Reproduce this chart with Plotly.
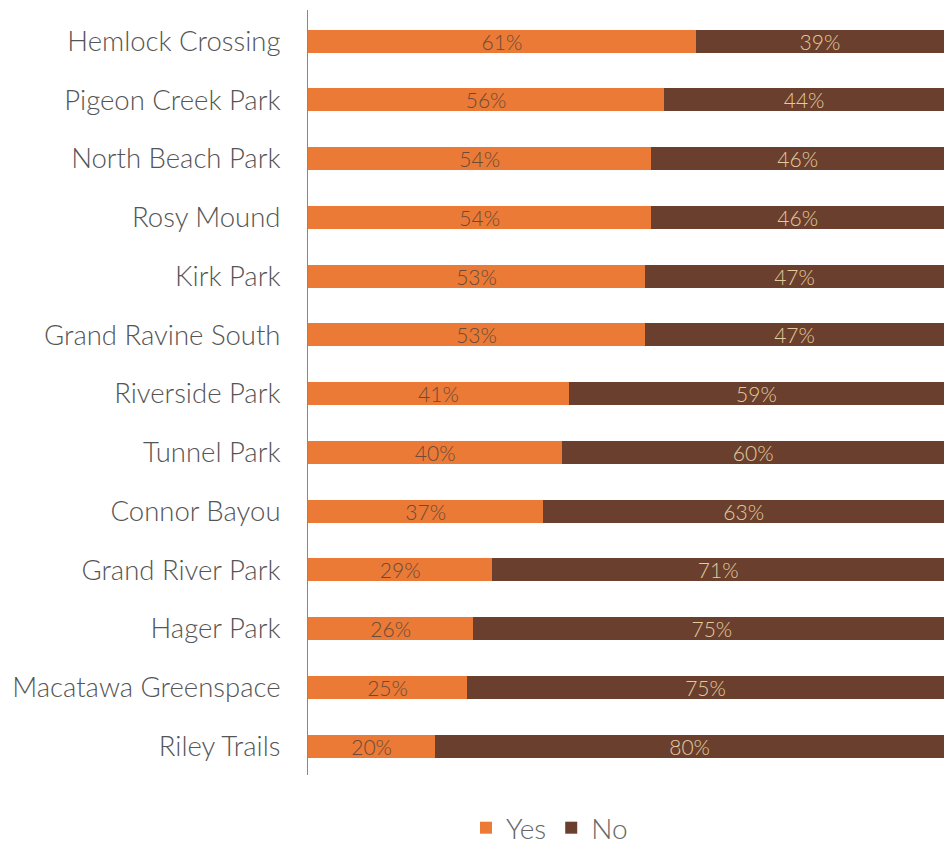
import plotly.graph_objects as go

parks = ["Hemlock Crossing", "Pigeon Creek Park", "North Beach Park", "Rosy Mound",
         "Kirk Park", "Grand Ravine South", "Riverside Park", "Tunnel Park",
         "Connor Bayou", "Grand River Park", "Hager Park", "Macatawa Greenspace",
         "Riley Trails"]
yes_pct = [61, 56, 54, 54, 53, 53, 41, 40, 37, 29, 26, 25, 20]
no_pct = [39, 44, 46, 46, 47, 47, 59, 60, 63, 71, 75, 75, 80]

ORANGE = "#EA7A35"
BROWN = "#6A3F2D"
FONT = "Lato"

fig = go.Figure()
fig.add_trace(go.Bar(
    y=parks, x=yes_pct, name="Yes", orientation="h",
    marker=dict(color=ORANGE, line=dict(width=0)),
    texttemplate="%{x}%", textposition="inside", insidetextanchor="middle",
    textfont=dict(family=FONT, size=21, color="#6B4A3A", weight=300),
    cliponaxis=True,
))
fig.add_trace(go.Bar(
    y=parks, x=no_pct, name="No", orientation="h",
    marker=dict(color=BROWN, line=dict(width=0)),
    texttemplate="%{x}%", textposition="inside", insidetextanchor="middle",
    textfont=dict(family=FONT, size=21, color="#E3CB9E", weight=300),
    cliponaxis=True,
))

fig.update_layout(
    barmode="stack",
    bargap=0.61,
    width=947, height=844,
    margin=dict(l=308, r=3, t=10, b=69, autoexpand=False),
    paper_bgcolor="white", plot_bgcolor="white",
    font=dict(family=FONT, color="#555555"),
    uniformtext=dict(minsize=21, mode="show"),
    legend=dict(orientation="h", xref="container", x=466 / 947, xanchor="left",
                yref="container", y=(844 - 828) / 844, yanchor="middle",
                font=dict(family=FONT, size=28, color="#666666", weight=300),
                itemwidth=30, traceorder="normal"),
    showlegend=True,
)
fig.update_xaxes(range=[0, 100], visible=False, fixedrange=True, automargin=False)
fig.update_yaxes(
    categoryorder="array", categoryarray=parks,
    range=[12.49, -0.53], automargin=False,
    showline=True, linecolor="#888888", linewidth=1,
    showgrid=False, zeroline=False, ticks="",
    ticklabelstandoff=21,
    tickfont=dict(family=FONT, size=27.5, color="#555555", weight=300),
)

fig.write_html(
    "out.html",
    config={"displayModeBar": False},
    post_script="document.body.style.margin='0';document.body.style.overflow='hidden';",
)
